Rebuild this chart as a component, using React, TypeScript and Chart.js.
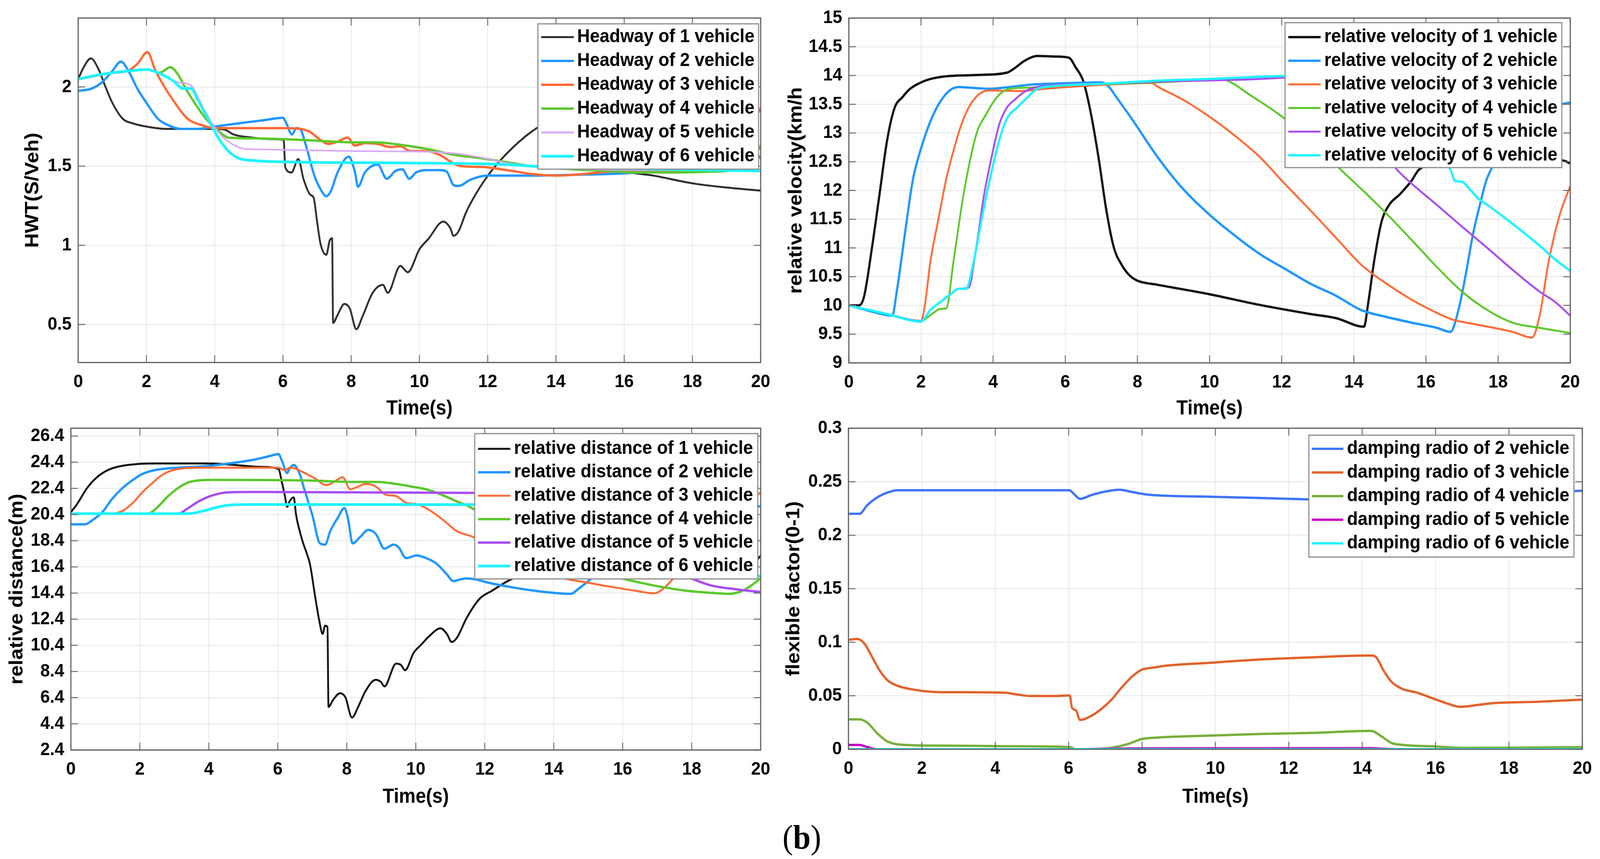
import React, { useEffect, useRef, useState } from "react";
import { Chart, registerables } from "chart.js";

Chart.register(...registerables);

type Pt = [number, number];

const FONT = '"Liberation Sans", Arial, Helvetica, sans-serif';
const PAGE_W = 4358;
const PAGE_H = 2199;

const timeTicks = [0, 2, 4, 6, 8, 10, 12, 14, 16, 18, 20];

// ---- headway (top left) ----
const hwtTicks = [0.5, 1, 1.5, 2];
const hwtTickLabels = ["0.5", "1", "1.5", "2"];

const hwt1: Pt[] = [
  [0, 2.05], [0.15, 2.12], [0.37, 2.18], [0.6, 2.11], [0.8, 2.0], [1.0, 1.9], [1.3, 1.8], [1.6, 1.77],
  [2.0, 1.75], [2.6, 1.735], [3.5, 1.735], [4.0, 1.735], [4.3, 1.73], [4.55, 1.7], [5.1, 1.68],
  [5.7, 1.67], [6.02, 1.665], [6.07, 1.49], [6.25, 1.46], [6.45, 1.545], [6.6, 1.42], [6.8, 1.32],
  [6.9, 1.3], [7.0, 1.15], [7.1, 1.01], [7.27, 0.94], [7.37, 1.03], [7.44, 1.045], [7.47, 0.51],
  [7.6, 0.56], [7.8, 0.63], [7.96, 0.6], [8.15, 0.47], [8.33, 0.55], [8.63, 0.7], [8.93, 0.75],
  [9.07, 0.7], [9.44, 0.87], [9.66, 0.83], [10.0, 0.975], [10.26, 1.04], [10.7, 1.15], [10.9, 1.11],
  [11.0, 1.06], [11.15, 1.09], [11.37, 1.21], [11.67, 1.33], [12.04, 1.45], [12.56, 1.58],
  [13.3, 1.72], [13.8, 1.78], [14.3, 1.8], [14.7, 1.72], [15.2, 1.6], [15.7, 1.5], [16.1, 1.465],
  [16.86, 1.44], [18.04, 1.39], [19.0, 1.365], [20, 1.345],
];
const hwt2: Pt[] = [
  [0, 1.975], [0.4, 1.99], [0.7, 2.03], [1.0, 2.1], [1.25, 2.16], [1.5, 2.09], [1.73, 1.99],
  [2.03, 1.89], [2.33, 1.8], [2.62, 1.76], [3.0, 1.735], [3.5, 1.735], [4.0, 1.75], [4.7, 1.77],
  [5.44, 1.79], [6.0, 1.805], [6.1, 1.77], [6.26, 1.7], [6.4, 1.74], [6.5, 1.735], [6.7, 1.61],
  [6.92, 1.44], [7.1, 1.355], [7.27, 1.31], [7.4, 1.34], [7.6, 1.46], [7.93, 1.56], [8.1, 1.47],
  [8.2, 1.37], [8.4, 1.46], [8.78, 1.51], [9.04, 1.42], [9.3, 1.47], [9.5, 1.48], [9.7, 1.42],
  [9.9, 1.46], [10.2, 1.475], [10.6, 1.475], [10.8, 1.465], [11.0, 1.38], [11.15, 1.375],
  [11.5, 1.415], [12.0, 1.44], [13.3, 1.44], [14.5, 1.445], [15.5, 1.45], [16.5, 1.46],
  [17.5, 1.47], [18.5, 1.475], [19.3, 1.48], [19.6, 1.52], [19.85, 1.58], [20, 1.55],
];
const hwt3: Pt[] = [
  [0, 2.05], [0.5, 2.07], [1.0, 2.09], [1.44, 2.1], [1.73, 2.145], [2.03, 2.22], [2.25, 2.11],
  [2.5, 2.01], [2.77, 1.92], [3.2, 1.8], [3.6, 1.76], [4.0, 1.74], [4.9, 1.74], [6.0, 1.74],
  [6.5, 1.735], [6.8, 1.715], [7.07, 1.67], [7.34, 1.64], [7.6, 1.655], [7.9, 1.68], [8.1, 1.63],
  [8.4, 1.645], [8.78, 1.64], [9.15, 1.62], [9.44, 1.625], [9.74, 1.595], [10.2, 1.595],
  [10.6, 1.57], [10.9, 1.53], [11.2, 1.5], [11.8, 1.495], [12.56, 1.475], [13.3, 1.45],
  [14.0, 1.44], [14.8, 1.45], [15.5, 1.465], [16.5, 1.47], [17.5, 1.47], [18.5, 1.48],
  [19.2, 1.55], [19.5, 1.75], [19.8, 1.905], [20, 1.84],
];
const hwt4: Pt[] = [
  [0, 2.05], [1.0, 2.09], [2.03, 2.11], [2.4, 2.09], [2.7, 2.125], [2.92, 2.08], [3.15, 1.99],
  [3.44, 1.89], [3.74, 1.8], [4.15, 1.715], [4.4, 1.68], [5.14, 1.675], [6.6, 1.665], [8.1, 1.65],
  [8.7, 1.65], [9.6, 1.63], [10.3, 1.605], [11.05, 1.57], [11.8, 1.55], [12.56, 1.525],
  [13.3, 1.5], [14.5, 1.48], [15.5, 1.47], [16.3, 1.46], [17.4, 1.46], [18.5, 1.465],
  [19.3, 1.48], [19.8, 1.56], [20, 1.63],
];
const hwt5: Pt[] = [
  [0, 2.05], [1.0, 2.09], [2.03, 2.11], [2.5, 2.07], [2.9, 2.03], [3.2, 2.02], [3.35, 2.0],
  [3.66, 1.87], [4.1, 1.715], [4.4, 1.655], [4.85, 1.61], [5.44, 1.605], [8.1, 1.595],
  [10.3, 1.59], [11.05, 1.58], [11.8, 1.555], [12.56, 1.52], [13.3, 1.5], [15, 1.48],
  [17, 1.475], [20, 1.48],
];
const hwt6: Pt[] = [
  [0, 2.05], [0.7, 2.08], [1.44, 2.1], [2.03, 2.11], [2.33, 2.09], [2.77, 2.04], [3.07, 1.99],
  [3.3, 1.99], [3.5, 1.92], [3.8, 1.8], [4.1, 1.68], [4.4, 1.595], [4.7, 1.55], [5.14, 1.535],
  [6.6, 1.525], [9.6, 1.52], [12.56, 1.51], [13.3, 1.5], [15, 1.49], [17, 1.48], [20, 1.47],
];

// ---- relative velocity (top right) ----
const velTicks = [9, 9.5, 10, 10.5, 11, 11.5, 12, 12.5, 13, 13.5, 14, 14.5, 15];
const velTickLabels = ["9", "9.5", "10", "10.5", "11", "11.5", "12", "12.5", "13", "13.5", "14", "14.5", "15"];

const vel1: Pt[] = [
  [0, 10.0], [0.28, 10.0], [0.42, 10.15], [0.64, 11.0], [0.85, 11.93], [1.06, 12.87], [1.27, 13.44],
  [1.48, 13.62], [1.7, 13.77], [2.0, 13.88], [2.33, 13.95], [2.76, 13.99], [3.6, 14.01],
  [4.38, 14.05], [4.6, 14.13], [4.88, 14.26], [5.23, 14.34], [5.72, 14.33], [6.1, 14.31],
  [6.29, 14.14], [6.5, 13.9], [6.71, 13.34], [6.93, 12.54], [7.14, 11.65], [7.35, 11.0],
  [7.56, 10.71], [7.77, 10.53], [8.0, 10.43], [8.55, 10.36], [9.96, 10.2], [11.38, 10.01],
  [12.8, 9.85], [13.5, 9.78], [14.28, 9.63], [14.4, 10.05], [14.56, 10.76], [14.77, 11.46],
  [14.98, 11.75], [15.27, 11.93], [15.6, 12.17], [15.8, 12.36], [16.2, 12.45], [17, 12.5],
  [18, 12.52], [19, 12.53], [19.8, 12.52], [20, 12.47],
];
const vel2: Pt[] = [
  [0, 10.0], [0.35, 9.94], [0.78, 9.87], [1.2, 9.82], [1.34, 10.29], [1.55, 11.23], [1.77, 12.17],
  [2.0, 12.73], [2.26, 13.2], [2.47, 13.48], [2.76, 13.72], [3.04, 13.8], [3.32, 13.79],
  [3.9, 13.77], [4.31, 13.79], [5.02, 13.84], [5.72, 13.86], [7.0, 13.88], [7.2, 13.81],
  [7.42, 13.62], [7.84, 13.25], [8.55, 12.59], [9.26, 12.03], [9.96, 11.6], [10.67, 11.23],
  [11.38, 10.9], [12.08, 10.64], [12.79, 10.38], [13.5, 10.17], [14.2, 9.92], [14.9, 9.8],
  [15.6, 9.7], [16.3, 9.61], [16.68, 9.54], [16.9, 9.92], [17.1, 10.53], [17.3, 11.23],
  [17.53, 11.84], [17.67, 12.17], [17.8, 12.36], [18.2, 12.9], [18.6, 13.2], [19.0, 13.38],
  [19.5, 13.47], [20, 13.53],
];
const vel3: Pt[] = [
  [0, 10.0], [1.0, 9.86], [2.0, 9.73], [2.12, 10.06], [2.26, 10.76], [2.47, 11.46], [2.69, 12.17],
  [2.9, 12.69], [3.1, 13.11], [3.32, 13.44], [3.6, 13.67], [3.9, 13.74], [4.74, 13.73],
  [5.44, 13.77], [7.14, 13.84], [8.4, 13.87], [8.55, 13.81], [9.26, 13.58], [9.96, 13.3],
  [10.67, 12.97], [11.38, 12.59], [12.08, 12.12], [12.8, 11.65], [13.5, 11.18], [14.2, 10.71],
  [14.9, 10.38], [15.6, 10.1], [16.3, 9.87], [16.75, 9.75], [17.3, 9.68], [18.4, 9.54],
  [18.94, 9.44], [19.15, 9.82], [19.4, 10.76], [19.7, 11.56], [20, 12.08],
];
const vel4: Pt[] = [
  [0, 10.0], [1.0, 9.86], [2.0, 9.73], [2.3, 9.85], [2.54, 9.94], [2.7, 9.95], [2.9, 10.76],
  [3.18, 11.93], [3.53, 12.97], [3.82, 13.34], [4.1, 13.62], [4.45, 13.77], [5.02, 13.79],
  [6.43, 13.84], [8.55, 13.88], [10.39, 13.93], [10.6, 13.88], [11.1, 13.67], [11.66, 13.44],
  [12.08, 13.25], [13.0, 12.75], [13.64, 12.36], [14.2, 12.03], [14.9, 11.6], [15.6, 11.14],
  [16.3, 10.67], [17.0, 10.24], [17.7, 9.92], [18.4, 9.7], [19.15, 9.61], [20, 9.52],
];
const vel5: Pt[] = [
  [0, 10.0], [1.0, 9.86], [2.0, 9.73], [2.26, 9.92], [2.54, 10.06], [2.83, 10.2], [3.04, 10.29],
  [3.32, 10.31], [3.53, 11.0], [3.75, 11.93], [3.96, 12.59], [4.17, 13.15], [4.38, 13.44],
  [4.6, 13.58], [4.88, 13.72], [5.3, 13.81], [7, 13.86], [9, 13.9], [11, 13.93], [12.6, 13.97],
  [13.0, 13.92], [13.5, 13.7], [14.0, 13.35], [14.5, 12.95], [15.2, 12.36], [15.6, 12.12],
  [16.3, 11.75], [17.0, 11.37], [17.7, 11.0], [18.4, 10.62], [19.15, 10.24], [19.58, 10.06],
  [20, 9.82],
];
const vel6: Pt[] = [
  [0, 10.0], [1.0, 9.86], [2.0, 9.72], [2.26, 9.92], [2.54, 10.06], [2.83, 10.2], [3.04, 10.29],
  [3.25, 10.29], [3.46, 10.76], [3.67, 11.46], [3.9, 12.17], [4.17, 12.87], [4.38, 13.25],
  [4.66, 13.44], [4.95, 13.62], [5.23, 13.77], [5.58, 13.81], [7.14, 13.86], [8.55, 13.91],
  [9.96, 13.94], [12.08, 13.99], [14.5, 14.0], [15.0, 13.75], [15.5, 13.35], [16.0, 12.9],
  [16.5, 12.5], [16.68, 12.36], [16.8, 12.17], [17.0, 12.15], [17.2, 12.03], [17.45, 11.86],
  [17.7, 11.75], [18.4, 11.42], [19.15, 11.04], [19.58, 10.8], [20, 10.6],
];

// ---- relative distance (bottom left) ----
const distTicks = [2.4, 4.4, 6.4, 8.4, 10.4, 12.4, 14.4, 16.4, 18.4, 20.4, 22.4, 24.4, 26.4];
const distTickLabels = ["2.4", "4.4", "6.4", "8.4", "10.4", "12.4", "14.4", "16.4", "18.4", "20.4", "22.4", "24.4", "26.4"];

const dist1: Pt[] = [
  [0, 20.58], [0.18, 21.2], [0.47, 22.43], [0.76, 23.26], [1.06, 23.78], [1.35, 24.05], [1.8, 24.23],
  [2.38, 24.3], [4.0, 24.3], [4.73, 24.19], [5.46, 24.05], [6.02, 23.88], [6.12, 22.85], [6.2, 21.9],
  [6.27, 20.99], [6.34, 21.4], [6.46, 21.71], [6.53, 20.37], [6.7, 18.51], [6.86, 17.27],
  [6.93, 16.65], [7.08, 14.17], [7.2, 12.31], [7.3, 11.28], [7.37, 11.9], [7.44, 11.8], [7.47, 5.7],
  [7.6, 6.22], [7.8, 6.74], [7.96, 6.43], [8.15, 4.88], [8.33, 5.7], [8.55, 6.94], [8.84, 7.77],
  [8.99, 7.6], [9.09, 7.26], [9.43, 9.01], [9.57, 8.9], [9.69, 8.5], [9.94, 9.84], [10.16, 10.46],
  [10.38, 11.08], [10.72, 11.7], [10.9, 11.28], [11.04, 10.66], [11.19, 10.97], [11.48, 12.52],
  [11.85, 13.96], [12.22, 14.59], [12.66, 15.31], [13, 15.7], [14, 16.3], [15, 16.6], [16, 16.8],
  [17, 16.9], [18, 16.9], [19, 16.9], [19.85, 16.9], [20, 17.25],
];
const dist2: Pt[] = [
  [0, 19.65], [0.4, 19.65], [0.62, 19.96], [0.91, 20.58], [1.2, 21.61], [1.5, 22.43], [1.8, 23.05],
  [2.08, 23.51], [2.52, 23.84], [3.11, 23.98], [3.85, 24.09], [4.58, 24.3], [5.32, 24.6],
  [5.76, 24.87], [6.02, 25.02], [6.12, 24.5], [6.27, 23.57], [6.34, 23.9], [6.46, 24.19],
  [6.64, 23.47], [6.78, 22.23], [7.0, 20.37], [7.22, 18.2], [7.37, 18.1], [7.52, 19.13],
  [7.74, 20.16], [7.93, 20.89], [8.03, 20.16], [8.17, 18.2], [8.4, 18.72], [8.62, 19.23],
  [8.84, 18.92], [9.09, 17.79], [9.35, 18.1], [9.5, 17.9], [9.72, 17.07], [10.02, 17.27],
  [10.3, 17.07], [10.6, 16.65], [10.9, 15.83], [11.09, 15.31], [11.26, 15.42], [11.48, 15.52],
  [11.78, 15.42], [12.07, 15.21], [12.66, 14.9], [13.4, 14.59], [14.13, 14.38], [14.5, 14.34],
  [14.7, 14.69], [15.0, 15.31], [15.5, 16.5], [16, 18.0], [16.5, 19.5], [17, 20.5], [17.5, 20.9],
  [18, 21.1], [19, 21.2], [19.85, 21.1], [20, 20.99],
];
const dist3: Pt[] = [
  [0, 20.47], [1.2, 20.47], [1.5, 20.68], [1.8, 21.3], [2.08, 22.12], [2.38, 22.85], [2.67, 23.47],
  [3.11, 23.88], [3.85, 23.98], [6.02, 23.98], [6.2, 23.78], [6.34, 23.98], [6.49, 23.92],
  [6.78, 23.57], [7.08, 23.16], [7.41, 22.64], [7.66, 22.95], [7.88, 23.26], [8.1, 22.33],
  [8.33, 22.54], [8.55, 22.74], [8.84, 22.54], [9.13, 21.92], [9.43, 21.81], [9.72, 21.3],
  [10.02, 21.2], [10.3, 20.89], [10.6, 20.37], [10.9, 19.75], [11.19, 19.13], [11.63, 18.72],
  [12, 18.2], [12.5, 17.4], [13, 16.7], [13.5, 16.1], [14, 15.7], [14.5, 15.4], [14.86, 15.25],
  [15.6, 14.9], [16.33, 14.59], [16.92, 14.38], [17.2, 14.79], [17.5, 15.62], [18, 17.3],
  [18.5, 19.3], [19, 20.8], [19.5, 21.5], [19.85, 21.8], [20, 22.1],
];
const dist4: Pt[] = [
  [0, 20.47], [2.23, 20.47], [2.52, 20.99], [2.82, 21.81], [3.11, 22.43], [3.4, 22.85], [3.7, 23.01],
  [4.14, 23.05], [6.78, 23.01], [8.25, 22.89], [8.84, 22.89], [9.43, 22.74], [9.87, 22.54],
  [10.3, 22.33], [10.75, 21.92], [11.19, 21.4], [11.48, 21.1], [12, 20.3], [13, 18.9], [14, 17.6],
  [15, 16.3], [16, 15.5], [16.5, 15.2], [17.06, 14.9], [17.8, 14.59], [18.53, 14.42],
  [19.1, 14.34], [19.56, 14.69], [20, 15.52],
];
const dist5: Pt[] = [
  [0, 20.47], [3.11, 20.47], [3.4, 20.89], [3.7, 21.4], [4.0, 21.77], [4.43, 22.06], [5.02, 22.12],
  [11.63, 22.06], [12.5, 21.9], [13, 21.5], [14, 20.3], [15, 18.9], [16, 17.6], [17, 16.4],
  [18, 15.5], [18.53, 15.0], [19.27, 14.69], [20, 14.48],
];
const dist6: Pt[] = [
  [0, 20.47], [3.4, 20.47], [3.85, 20.68], [4.29, 20.99], [4.73, 21.15], [5.32, 21.17], [14, 21.15],
  [15, 20.5], [16, 19.3], [17, 18.1], [18, 17.0], [19, 16.3], [19.85, 15.83], [20, 15.62],
];

// ---- damping ratio (bottom right) ----
const dampTicks = [0, 0.05, 0.1, 0.15, 0.2, 0.25, 0.3];
const dampTickLabels = ["0", "0.05", "0.1", "0.15", "0.2", "0.25", "0.3"];

const damp2: Pt[] = [
  [0, 0.22], [0.3, 0.22], [0.51, 0.228], [0.79, 0.2355], [1.07, 0.24], [1.35, 0.242], [2.87, 0.242],
  [6.02, 0.242], [6.13, 0.239], [6.31, 0.234], [6.62, 0.2375], [7.03, 0.241], [7.38, 0.2425],
  [7.72, 0.2405], [8.14, 0.238], [8.7, 0.2368], [9.8, 0.236], [11.19, 0.2348], [12.5, 0.2335],
  [14, 0.2328], [14.5, 0.232], [15, 0.2335], [16, 0.236], [17, 0.2385], [18, 0.2405], [19, 0.241],
  [20, 0.2415],
];
const damp3: Pt[] = [
  [0, 0.1023], [0.24, 0.103], [0.44, 0.0985], [0.65, 0.0858], [0.86, 0.0731], [1.07, 0.0642],
  [1.35, 0.0591], [1.76, 0.0558], [2.32, 0.0536], [2.87, 0.0533], [4.26, 0.0528], [4.54, 0.0515],
  [4.95, 0.0497], [5.64, 0.0497], [6.03, 0.0503], [6.09, 0.0388], [6.2, 0.0363], [6.31, 0.0274],
  [6.62, 0.0312], [6.89, 0.0376], [7.17, 0.0464], [7.45, 0.0579], [7.73, 0.068], [8.0, 0.0744],
  [8.28, 0.0761], [8.56, 0.0777], [9.8, 0.0807], [11.19, 0.0838], [12.58, 0.0858], [14.24, 0.0876],
  [14.38, 0.086], [14.59, 0.0731], [14.8, 0.063], [15.08, 0.0566], [15.5, 0.0528], [15.91, 0.0477],
  [16.33, 0.0426], [16.67, 0.0396], [17.16, 0.0414], [17.57, 0.0431], [18.82, 0.0444], [20, 0.0464],
];
const damp4: Pt[] = [
  [0, 0.0279], [0.3, 0.0279], [0.51, 0.0249], [0.79, 0.0147], [1.07, 0.0071], [1.48, 0.0041],
  [2.87, 0.0033], [4.26, 0.0028], [6.03, 0.002], [6.2, 0.0], [7.03, 0.0008], [7.59, 0.0046],
  [8.0, 0.0096], [8.42, 0.0109], [9.8, 0.0127], [11.19, 0.0142], [12.58, 0.0152], [14.24, 0.0172],
  [14.52, 0.0122], [14.8, 0.0058], [15.08, 0.0041], [16.05, 0.0025], [16.74, 0.0013],
  [18.13, 0.0015], [20, 0.002],
];
const damp5: Pt[] = [
  [0, 0.004], [0.3, 0.004], [0.51, 0.002], [0.79, 0.0], [6, 0], [8, 0.0008], [14.2, 0.001],
  [14.8, 0.0002], [15.2, 0], [20, 0],
];
const damp6: Pt[] = [[0, 0], [20, 0]];

interface Series {
  label: string;
  data: Pt[];
  color: string;
  width: number;
}

const hwtSeries: Series[] = [
  { label: "Headway of 1 vehicle", data: hwt1, color: "#2e2e2e", width: 5 },
  { label: "Headway of 2 vehicle", data: hwt2, color: "#1f97ff", width: 6 },
  { label: "Headway of 3 vehicle", data: hwt3, color: "#ff6a35", width: 6 },
  { label: "Headway of 4 vehicle", data: hwt4, color: "#5cc82b", width: 6 },
  { label: "Headway of 5 vehicle", data: hwt5, color: "#d9a8fa", width: 4 },
  { label: "Headway of 6 vehicle", data: hwt6, color: "#1ef3ff", width: 7 },
];
const velSeries: Series[] = [
  { label: "relative velocity of 1 vehicle", data: vel1, color: "#111111", width: 6 },
  { label: "relative velocity of 2 vehicle", data: vel2, color: "#1f97ff", width: 6 },
  { label: "relative velocity of 3 vehicle", data: vel3, color: "#ff6a35", width: 5 },
  { label: "relative velocity of 4 vehicle", data: vel4, color: "#5cc82b", width: 5 },
  { label: "relative velocity of 5 vehicle", data: vel5, color: "#a84cf0", width: 5 },
  { label: "relative velocity of 6 vehicle", data: vel6, color: "#1ef3ff", width: 6 },
];
const distSeries: Series[] = [
  { label: "relative distance of 1 vehicle", data: dist1, color: "#111111", width: 5 },
  { label: "relative distance of 2 vehicle", data: dist2, color: "#1f97ff", width: 6 },
  { label: "relative distance of 3 vehicle", data: dist3, color: "#ff6a35", width: 5 },
  { label: "relative distance of 4 vehicle", data: dist4, color: "#5cc82b", width: 6 },
  { label: "relative distance of 5 vehicle", data: dist5, color: "#a84cf0", width: 6 },
  { label: "relative distance of 6 vehicle", data: dist6, color: "#1ef3ff", width: 7 },
];
const dampSeries: Series[] = [
  { label: "damping radio of 2 vehicle", data: damp2, color: "#3f74f6", width: 6 },
  { label: "damping radio of 3 vehicle", data: damp3, color: "#e2622c", width: 6 },
  { label: "damping radio of 4 vehicle", data: damp4, color: "#78b03a", width: 6 },
  { label: "damping radio of 5 vehicle", data: damp5, color: "#c400c4", width: 6 },
  { label: "damping radio of 6 vehicle", data: damp6, color: "#22f2ff", width: 6 },
];

// MATLAB-like box with inward ticks
const framePlugin = {
  id: "matlabFrame",
  afterDatasetsDraw(chart: any) {
    const { ctx, chartArea: a, scales } = chart;
    const len = 19;
    ctx.save();
    ctx.strokeStyle = "#6a6a6a";
    ctx.lineWidth = 2.5;
    ctx.beginPath();
    scales.x.ticks.forEach((t: any) => {
      const px = scales.x.getPixelForValue(t.value);
      ctx.moveTo(px, a.bottom);
      ctx.lineTo(px, a.bottom - len);
      ctx.moveTo(px, a.top);
      ctx.lineTo(px, a.top + len);
    });
    scales.y.ticks.forEach((t: any) => {
      const py = scales.y.getPixelForValue(t.value);
      ctx.moveTo(a.left, py);
      ctx.lineTo(a.left + len, py);
      ctx.moveTo(a.right, py);
      ctx.lineTo(a.right - len, py);
    });
    ctx.stroke();
    ctx.strokeStyle = "#5a5a5a";
    ctx.lineWidth = 3;
    ctx.strokeRect(a.left, a.top, a.right - a.left, a.bottom - a.top);
    ctx.restore();
  },
};

// boxed legend drawn inside the axes
const boxLegend = {
  id: "boxLegend",
  afterDraw(chart: any, _args: any, o: any) {
    if (!o || !o.w) return;
    const { ctx } = chart;
    ctx.save();
    ctx.fillStyle = "#ffffff";
    ctx.fillRect(o.x, o.y, o.w, o.h);
    ctx.strokeStyle = "#8c8c8c";
    ctx.lineWidth = 3;
    ctx.strokeRect(o.x, o.y, o.w, o.h);
    ctx.font = `bold 48px ${FONT}`;
    ctx.textBaseline = "middle";
    ctx.textAlign = "left";
    chart.data.datasets.forEach((ds: any, i: number) => {
      const cy = o.y + o.first + i * o.row;
      ctx.strokeStyle = ds.borderColor;
      ctx.lineWidth = Math.max(5, ds.borderWidth);
      ctx.beginPath();
      ctx.moveTo(o.x + o.sw0, cy);
      ctx.lineTo(o.x + o.sw1, cy);
      ctx.stroke();
      ctx.fillStyle = "#000000";
      ctx.fillText(ds.label, o.x + o.tx, cy);
    });
    ctx.restore();
  },
};

interface Box {
  l: number;
  t: number;
  r: number;
  b: number;
}

interface PanelProps {
  left: number;
  top: number;
  width: number;
  height: number;
  plot: Box;
  yMin: number;
  yMax: number;
  yTicks: number[];
  yTickLabels: string[];
  yTitle: string;
  yTitleX: number;
  xTitleY: number;
  series: Series[];
  legend: { x: number; y: number; w: number; h: number; first: number; row: number; sw0: number; sw1: number; tx: number };
}

const Panel = (props: PanelProps) => {
  const canvasRef = useRef<HTMLCanvasElement>(null);

  useEffect(() => {
    if (!canvasRef.current) return;
    const p = props;
    const yAxisWidth = p.plot.l - p.left;
    const xAxisHeight = p.top + p.height - p.plot.b;
    const yTitleSize = 52;
    const xTitleSize = 51;
    const yTitlePad = p.yTitleX - p.left - (yTitleSize * 1.2) / 2;
    const xTitlePad = p.top + p.height - p.xTitleY - (xTitleSize * 1.2) / 2;
    const n = p.series.length;

    const chart = new Chart(canvasRef.current, {
      type: "line",
      data: {
        datasets: p.series.map((s, i) => ({
          label: s.label,
          data: s.data.map(([x, y]) => ({ x, y })),
          borderColor: s.color,
          backgroundColor: s.color,
          borderWidth: s.width,
          pointRadius: 0,
          fill: false,
          cubicInterpolationMode: "monotone",
          order: n - i,
        })),
      },
      options: {
        animation: false,
        responsive: false,
        devicePixelRatio: 1,
        layout: {
          padding: {
            top: p.plot.t - p.top,
            right: p.left + p.width - p.plot.r,
            left: 0,
            bottom: 0,
          },
        },
        plugins: {
          legend: { display: false },
          tooltip: { enabled: false },
          boxLegend: {
            ...p.legend,
            x: p.legend.x - p.left,
            y: p.legend.y - p.top,
          },
        } as any,
        scales: {
          x: {
            type: "linear",
            min: 0,
            max: 20,
            afterBuildTicks: (scale: any) => {
              scale.ticks = timeTicks.map((value) => ({ value }));
            },
            afterFit: (scale: any) => {
              scale.height = xAxisHeight;
            },
            ticks: {
              padding: 22,
              color: "#000000",
              font: { family: FONT, size: 47, weight: "bold" },
              maxRotation: 0,
              autoSkip: false,
              callback: (v: any) => String(v),
            },
            grid: { color: "#e6e6e6", lineWidth: 2, drawTicks: false },
            border: { display: false },
            title: {
              display: true,
              text: "Time(s)",
              color: "#000000",
              font: { family: FONT, size: xTitleSize, weight: "bold" },
              padding: { top: 0, bottom: xTitlePad },
            },
          },
          y: {
            type: "linear",
            min: p.yMin,
            max: p.yMax,
            afterBuildTicks: (scale: any) => {
              scale.ticks = p.yTicks.map((value) => ({ value }));
            },
            afterFit: (scale: any) => {
              scale.width = yAxisWidth;
            },
            ticks: {
              padding: 18,
              color: "#000000",
              font: { family: FONT, size: 47, weight: "bold" },
              autoSkip: false,
              callback: (_v: any, i: number) => p.yTickLabels[i],
            },
            grid: { color: "#e6e6e6", lineWidth: 2, drawTicks: false },
            border: { display: false },
            title: {
              display: true,
              text: p.yTitle,
              color: "#000000",
              font: { family: FONT, size: yTitleSize, weight: "bold" },
              padding: { top: yTitlePad, bottom: 0 },
            },
          },
        },
      } as any,
      plugins: [framePlugin, boxLegend],
    });

    return () => {
      chart.destroy();
    };
  }, []);

  return (
    <canvas
      ref={canvasRef}
      width={props.width}
      height={props.height}
      style={{
        position: "absolute",
        left: props.left,
        top: props.top,
        width: props.width,
        height: props.height,
      }}
    />
  );
};

const App = () => {
  // if the viewport is narrower than the figure, squeeze the whole figure into it
  const [view] = useState(() => ({
    w: window.innerWidth,
    h: window.innerHeight,
  }));
  const sx = Math.min(1, view.w / PAGE_W);
  const sy = Math.min(1, view.h / PAGE_H);

  useEffect(() => {
    document.body.style.margin = "0";
    document.body.style.overflow = "hidden";
    document.body.style.background = "#ffffff";
  }, []);

  return (
    <div
      style={{
        position: "relative",
        width: Math.min(view.w, PAGE_W),
        height: Math.min(view.h, PAGE_H),
        overflow: "hidden",
        background: "#ffffff",
      }}
    >
      <div
        style={{
          position: "absolute",
          left: 0,
          top: 0,
          width: PAGE_W,
          height: PAGE_H,
          background: "#ffffff",
          transform: `scale(${sx}, ${sy})`,
          transformOrigin: "0 0",
        }}
      >
        <Panel
          left={0}
          top={0}
          width={2120}
          height={1100}
          plot={{ l: 213, t: 36, r: 2088, b: 928 }}
          yMin={0.26}
          yMax={2.435}
          yTicks={hwtTicks}
          yTickLabels={hwtTickLabels}
          yTitle="HWT(S/Veh)"
          yTitleX={90}
          xTitleY={1047}
          series={hwtSeries}
          legend={{ x: 1465, y: 61, w: 601, h: 372, first: 34, row: 61, sw0: 9, sw1: 98, tx: 107 }}
        />
        <Panel
          left={2120}
          top={0}
          width={2238}
          height={1100}
          plot={{ l: 2312, t: 33, r: 4277, b: 929 }}
          yMin={9}
          yMax={15}
          yTicks={velTicks}
          yTickLabels={velTickLabels}
          yTitle="relative velocity(km/h"
          yTitleX={2169}
          xTitleY={1047}
          series={velSeries}
          legend={{ x: 3500, y: 58, w: 754, h: 371, first: 37, row: 60.5, sw0: 9, sw1: 97, tx: 107 }}
        />
        <Panel
          left={0}
          top={1050}
          width={2120}
          height={1050}
          plot={{ l: 193, t: 1087, r: 2086, b: 1920 }}
          yMin={2.4}
          yMax={27}
          yTicks={distTicks}
          yTickLabels={distTickLabels}
          yTitle="relative distance(m)"
          yTitleX={47}
          xTitleY={2041}
          series={distSeries}
          legend={{ x: 1293, y: 1110, w: 771, h: 372, first: 39, row: 60, sw0: 9, sw1: 97, tx: 107 }}
        />
        <Panel
          left={2120}
          top={1050}
          width={2238}
          height={1050}
          plot={{ l: 2311, t: 1090, r: 4312, b: 1918 }}
          yMin={0}
          yMax={0.3}
          yTicks={dampTicks}
          yTickLabels={dampTickLabels}
          yTitle="flexible factor(0-1)"
          yTitleX={2163}
          xTitleY={2041}
          series={dampSeries}
          legend={{ x: 3565, y: 1114, w: 722, h: 312, first: 35, row: 60.5, sw0: 8, sw1: 94, tx: 104 }}
        />
        <div
          style={{
            position: "absolute",
            left: 0,
            top: 2100,
            width: 4368,
            textAlign: "center",
            fontFamily: '"Liberation Serif", "Times New Roman", serif',
            fontSize: 86,
            lineHeight: "86px",
            color: "#000000",
          }}
        >
          (<span style={{ fontWeight: "bold" }}>b</span>)
        </div>
      </div>
    </div>
  );
};

export default App;
